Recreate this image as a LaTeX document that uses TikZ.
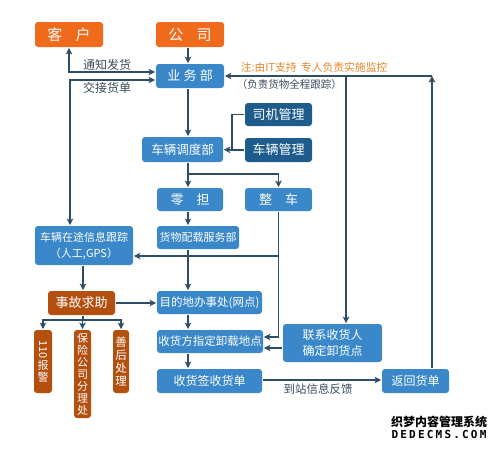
\documentclass[tikz,border=0pt]{standalone}
\usepackage{fontspec}
\setmainfont{Noto Sans CJK SC}
\newfontfamily\wmmono[LetterSpace=20]{DejaVu Sans Mono}
\usepackage{graphicx}
\usetikzlibrary{arrows.meta,calc}
\definecolor{orangeb}{HTML}{F06A1C}
\definecolor{blueb}{HTML}{3A88C9}
\definecolor{darkb}{HTML}{1F5C8E}
\definecolor{brownb}{HTML}{B4500F}
\definecolor{linec}{HTML}{2E4D66}
\definecolor{labelc}{HTML}{3A4A5C}
\definecolor{notec}{HTML}{E8862A}
\begin{document}
\begin{tikzpicture}[x=1pt,y=-1pt, line width=1.7pt,
  arr/.style={draw=linec, -{Stealth[length=6.5pt,width=6.5pt,inset=1.5pt]}},
  darr/.style={draw=linec, {Stealth[length=6.5pt,width=6.5pt,inset=1.5pt]}-{Stealth[length=6.5pt,width=6.5pt,inset=1.5pt]}},
  ln/.style={draw=linec},
  bbox/.style={rounded corners=3pt, fill=blueb, text=white, inner sep=0pt, font=\fontsize{11.5}{14}\selectfont, align=center},
  dbox/.style={bbox, fill=darkb, font=\fontsize{13}{15}\selectfont},
  obox/.style={bbox, fill=orangeb, font=\fontsize{15}{17}\selectfont},
  rbox/.style={bbox, fill=brownb},
  vbox/.style={rbox, font=\fontsize{11}{12}\selectfont},
  lbl/.style={text=labelc, font=\fontsize{12}{14}\selectfont, inner sep=0pt},
]
\useasboundingbox (0,0) rectangle (500,450);
\fill[white] (0,0) rectangle (500,450);

% nodes
\node[obox, minimum width=68pt, minimum height=25pt] (kehu) at (69,34.5) {客\hspace{0.9em}户};
\node[obox, minimum width=68pt, minimum height=25pt] (gongsi) at (190,34.5) {公\hspace{0.9em}司};
\node[bbox, font=\fontsize{13}{15}\selectfont, minimum width=68pt, minimum height=24pt] (yewu) at (190,76) {业\hspace{0.25em}务\hspace{0.25em}部};
\node[dbox, minimum width=67pt, minimum height=23pt] (siji) at (278.5,114.5) {司机管理};
\node[dbox, minimum width=67pt, minimum height=24pt] (cheliang) at (278.5,150) {车辆管理};
\node[bbox, font=\fontsize{12.5}{14}\selectfont, minimum width=81pt, minimum height=25pt] (diaodu) at (182.5,149.5) {车辆调度部};
\node[bbox, font=\fontsize{13}{15}\selectfont, minimum width=66pt, minimum height=23pt] (lingdan) at (190,199.5) {零\hspace{1em}担};
\node[bbox, font=\fontsize{13}{15}\selectfont, minimum width=67pt, minimum height=23pt] (zhengche) at (278.5,199.5) {整\hspace{1em}车};
\node[bbox, font=\fontsize{11}{13}\selectfont, minimum width=82pt, minimum height=23pt] (peizai) at (198,237.5) {货物配载服务部};
\node[bbox, font=\fontsize{11}{16}\selectfont, minimum width=98pt, minimum height=39pt] (zaitu) at (84,245.5) {车辆在途信息跟踪\\（人工,GPS）};
\node[rbox, font=\fontsize{13}{15}\selectfont, minimum width=67pt, minimum height=24pt] (shigu) at (81.5,303) {事故求助};
\node[bbox, minimum width=105pt, minimum height=23pt] (mudidi) at (209.5,302.5) {目的地办事处(网点)};
\node[bbox, minimum width=106pt, minimum height=23pt] (shouhuofang) at (210,341.5) {收货方指定卸载地点};
\node[bbox, font=\fontsize{12}{14}\selectfont, minimum width=105pt, minimum height=24pt] (qianshou) at (209.5,381) {收货签收货单};
\node[bbox, font=\fontsize{12}{16}\selectfont, minimum width=99pt, minimum height=38pt] (lianxi) at (332.5,343) {联系收货人\\确定卸货点};
\node[bbox, font=\fontsize{12}{14}\selectfont, minimum width=67pt, minimum height=24pt] (fanhui) at (415.5,381) {返回货单};
\node[vbox, minimum width=18pt, minimum height=63pt] (b110) at (43,361.5) {\rotatebox{-90}{110}\\[1pt]报\\警};
\node[vbox, minimum width=17pt, minimum height=88pt] (baoxian) at (82.5,374) {保\\险\\公\\司\\分\\理\\处};
\node[vbox, font=\fontsize{11.5}{13}\selectfont, minimum width=16pt, minimum height=63pt] (shanhou) at (121,361.5) {善\\后\\处\\理};

% texts
\node[anchor=west, inner sep=0pt, text=notec, font=\fontsize{10.8}{12}\selectfont] (note1) at (240,67.5) {注:由IT支持\hspace{0.4em}专人负责实施监控};
\node[anchor=west, inner sep=0pt, text=labelc, font=\fontsize{10.5}{12}\selectfont] (note2) at (236,85) {（负责货物全程跟踪）};
\node[lbl] (t1) at (107,65) {通知发货};
\node[lbl] (t2) at (107,88) {交接货单};
\node[lbl, font=\fontsize{11.5}{13}\selectfont] (t3) at (318,389) {到站信息反馈};

% helper coordinates
\coordinate (colx) at (188,0);
\coordinate (ne) at (432,76);
\coordinate (nb) at (346,76);
\coordinate (bx) at (232,150);
\coordinate (br1) at (188,174);
\coordinate (sb) at (83,320);

% connectors
\draw[darr] ($(yewu.west)+(0,-4)$) -| (kehu.south);
\draw[darr] ($(yewu.west)+(0,4)$) -| ($(zaitu.north)+(-14,0)$);
\draw[arr] (gongsi.south -| colx) -- (yewu.north -| colx);
\draw[arr] ($(fanhui.north)+(16.5,0)$) -- (ne);
\draw[arr] (ne) -- (yewu.east);
\draw[arr] (nb) -- (nb |- lianxi.north);
\draw[ln] (siji.west) -| (bx);
\draw[ln] (cheliang.west) -- (bx);
\draw[arr] (bx) -- (diaodu.east);
\draw[arr] (yewu.south -| colx) -- (diaodu.north -| colx);
\draw[arr] (diaodu.south -| colx) -- (lingdan.north -| colx);
\draw[arr] (br1) -| (zhengche.north);
\draw[arr] (lingdan.south -| colx) -- (peizai.north -| colx);
\draw[arr] (peizai.south -| colx) -- (mudidi.north -| colx);
\draw[arr] (zhengche.south) |- ([yshift=4.5pt]shouhuofang.east);
\draw[arr] (zhengche.south |- 0,256) -- (zaitu.east |- 0,256);
\draw[arr] (lianxi.west |- 0,348) -- (shouhuofang.east |- 0,348);
\draw[arr] (mudidi.south -| colx) -- (shouhuofang.north -| colx);
\draw[arr] (shouhuofang.south -| colx) -- (qianshou.north -| colx);
\draw[arr] (qianshou.east |- 0,380) -- (fanhui.west |- 0,380);
\draw[arr] (zaitu.south -| sb) -- (shigu.north -| sb);
\draw[arr] (shigu.east) -- (mudidi.west |- shigu.east);
\draw[ln] (shigu.south -| sb) -- (sb);
\draw[arr] (sb) -| (b110.north);
\draw[arr] (sb) -| (baoxian.north);
\draw[arr] (sb) -| (shanhou.north);

% watermark
\node[inner sep=0pt, font=\fontsize{12}{12}\selectfont\bfseries] (wm1) at (439,421.5) {织梦内容管理系统};
\node[inner sep=0pt, font=\wmmono\fontsize{11}{11}\selectfont\bfseries] (wm2) at (439,434) {DEDECMS.COM};
\end{tikzpicture}
\end{document}
